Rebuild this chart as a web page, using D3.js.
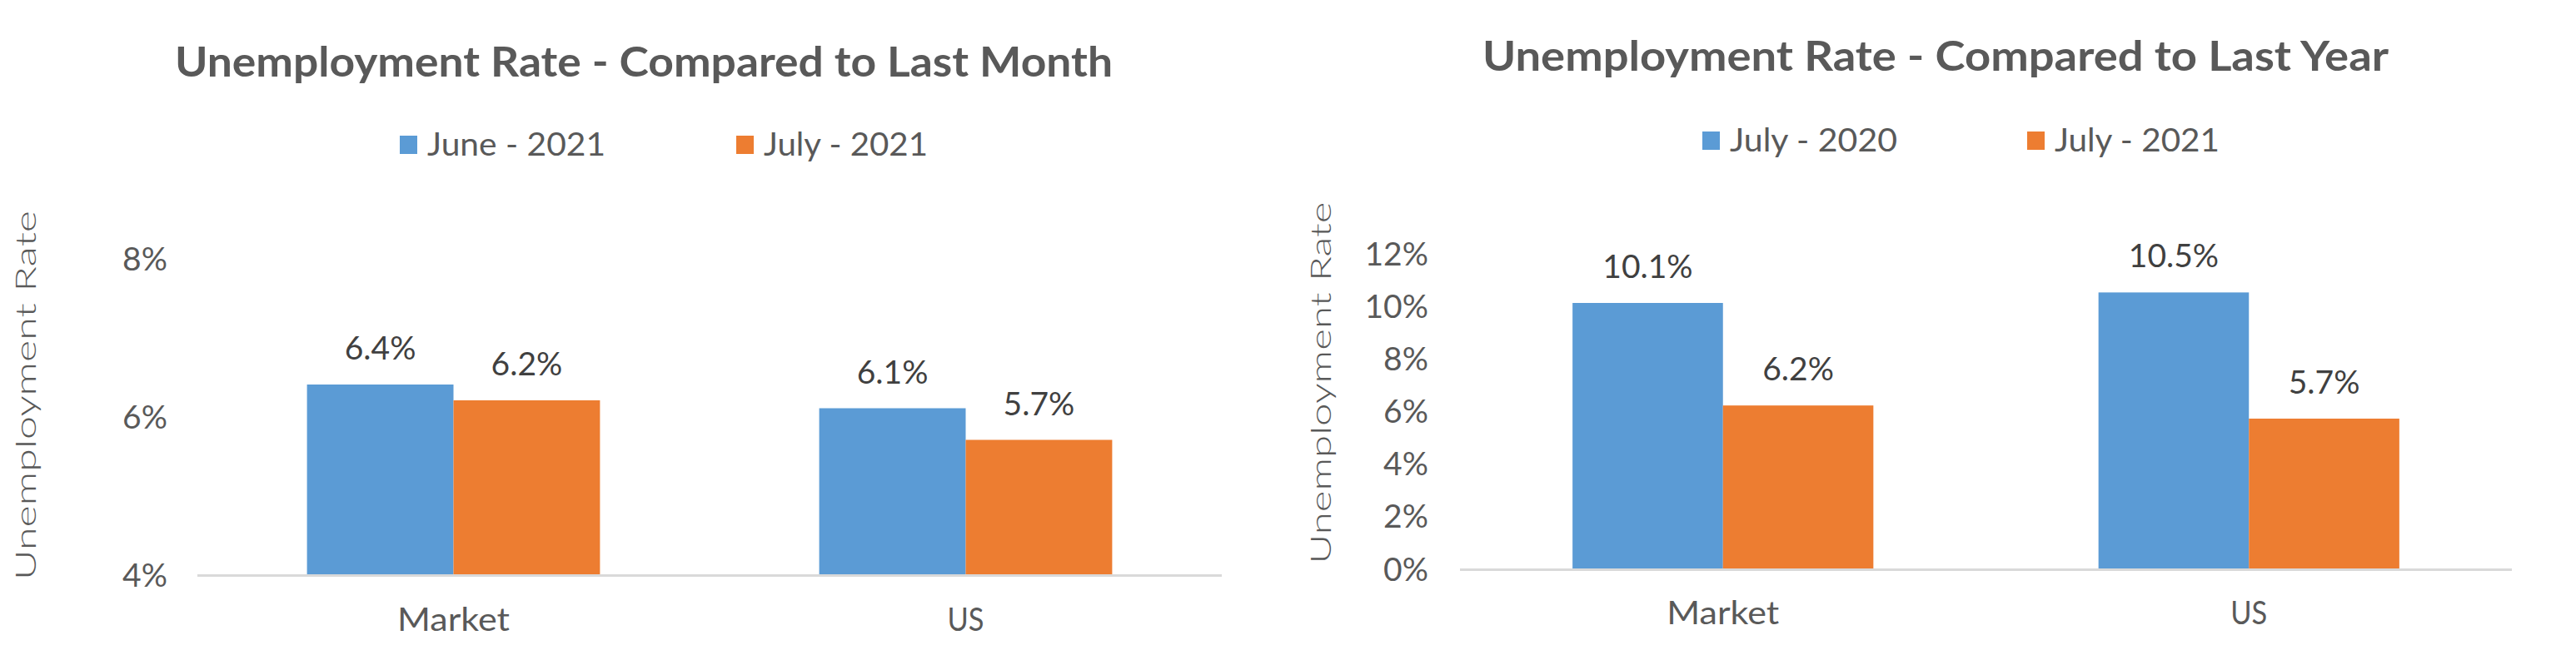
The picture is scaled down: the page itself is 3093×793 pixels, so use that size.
<!DOCTYPE html>
<html>
<head>
<meta charset="utf-8">
<script src="https://cdn.jsdelivr.net/npm/d3@7"></script>
<style>
  html, body { margin: 0; padding: 0; background: #ffffff; }
  svg { display: block; }
  text { font-family: Lato, "Noto Sans", sans-serif; }
</style>
</head>
<body>
<svg id="chart" width="3093" height="793"></svg>
<script>
// ---------- data ----------
const categories = ["Market", "US"];

const monthTitle = "Unemployment Rate - Compared to Last Month";
const monthSeries = ["June - 2021", "July - 2021"];
const monthJune2021 = [6.4, 6.1];
const monthJuly2021 = [6.2, 5.7];
const monthTicks = [4, 6, 8];

const yearTitle = "Unemployment Rate - Compared to Last Year";
const yearSeries = ["July - 2020", "July - 2021"];
const yearJuly2020 = [10.1, 10.5];
const yearJuly2021 = [6.2, 5.7];
const yearTicks = [0, 2, 4, 6, 8, 10, 12];

const yAxisTitle = "Unemployment Rate";
const seriesColors = ["#5B9BD5", "#ED7D31"];

// ---------- drawing ----------
const svg = d3.select("#chart");
const TEXT = "#595959";
const LABEL = "#404040";

function drawChart(cfg) {
  const g = svg.append("g");
  const values = cfg.values;

  const x = d3.scaleBand().domain(categories)
    .range([cfg.x0, cfg.x1]).paddingInner(0.428).paddingOuter(0.214);
  const xs = d3.scaleBand().domain(d3.range(values.length))
    .range([0, x.bandwidth()]).padding(0);
  const y = d3.scaleLinear().domain(cfg.domain).range([cfg.yBottom, cfg.yTop]);

  // title
  g.append("text")
    .attr("x", cfg.titleX).attr("y", cfg.titleY)
    .attr("text-anchor", "middle")
    .attr("font-size", 49).attr("font-weight", 700)
    .attr("fill", TEXT)
    .attr("textLength", cfg.titleW).attr("lengthAdjust", "spacingAndGlyphs")
    .text(cfg.title);

  // legend
  cfg.series.forEach((s, i) => {
    const lx = cfg.legendX[i];
    g.append("rect")
      .attr("x", lx).attr("y", cfg.legendY - 24)
      .attr("width", 21).attr("height", 22)
      .attr("fill", seriesColors[i]);
    g.append("text")
      .attr("x", lx + 33).attr("y", cfg.legendY)
      .attr("font-size", 39).attr("fill", TEXT)
      .attr("textLength", cfg.legendW[i]).attr("lengthAdjust", "spacingAndGlyphs")
      .text(s);
  });

  // y axis (labels only)
  const yAxis = d3.axisLeft(y).tickValues(cfg.ticks)
    .tickFormat(d => d + "%").tickSize(0).tickPadding(0);
  const ya = g.append("g")
    .attr("transform", `translate(${cfg.tickRight},0)`)
    .call(yAxis);
  ya.select(".domain").remove();
  ya.selectAll("text")
    .attr("font-size", 39).attr("fill", TEXT)
    .attr("font-family", "Lato, 'Noto Sans', sans-serif")
    .attr("dy", "0.36em");

  // y axis title
  g.append("text")
    .attr("transform", `translate(${cfg.yTitleX},${cfg.yTitleY}) rotate(-90)`)
    .attr("text-anchor", "middle")
    .attr("font-size", 34).attr("font-weight", 300).attr("fill", TEXT)
    .attr("textLength", cfg.yTitleW).attr("lengthAdjust", "spacingAndGlyphs")
    .text(yAxisTitle);

  // bars
  values.forEach((arr, si) => {
    g.selectAll(null).data(arr).enter().append("rect")
      .attr("x", (d, i) => x(categories[i]) + xs(si))
      .attr("y", d => y(d))
      .attr("width", xs.bandwidth())
      .attr("height", d => y(cfg.domain[0]) - y(d))
      .attr("fill", seriesColors[si]);
    g.selectAll(null).data(arr).enter().append("text")
      .attr("x", (d, i) => x(categories[i]) + xs(si) + xs.bandwidth() / 2)
      .attr("y", d => y(d) - 30)
      .attr("text-anchor", "middle")
      .attr("font-size", 39).attr("fill", LABEL)
      .text(d => d3.format(".1f")(d) + "%");
  });

  // x axis line
  g.append("line")
    .attr("x1", cfg.x0).attr("x2", cfg.x1)
    .attr("y1", y(cfg.domain[0]) + 1.5).attr("y2", y(cfg.domain[0]) + 1.5)
    .attr("stroke", "#D9D9D9").attr("stroke-width", 3);

  // x labels
  const xAxis = d3.axisBottom(x).tickSize(0).tickPadding(0);
  const xa = g.append("g")
    .attr("transform", `translate(0,${cfg.xLabelY})`)
    .call(xAxis);
  xa.select(".domain").remove();
  xa.selectAll("text")
    .attr("dy", 0)
    .attr("font-size", 39).attr("fill", TEXT)
    .attr("font-family", "Lato, 'Noto Sans', sans-serif")
    .each(function(d) {
      d3.select(this).attr("textLength", d === "Market" ? 135 : 44)
        .attr("lengthAdjust", "spacingAndGlyphs");
    });
}

drawChart({
  title: monthTitle, titleX: 773, titleY: 92, titleW: 1126,
  series: monthSeries, values: [monthJune2021, monthJuly2021],
  legendX: [480, 884], legendY: 187, legendW: [214, 197],
  x0: 237, x1: 1467, yBottom: 690, yTop: 310, domain: [4, 8],
  ticks: monthTicks, tickRight: 201,
  yTitleX: 43, yTitleY: 475, yTitleW: 444,
  xLabelY: 758
});

drawChart({
  title: yearTitle, titleX: 2324, titleY: 85, titleW: 1088,
  series: yearSeries, values: [yearJuly2020, yearJuly2021],
  legendX: [2044, 2434], legendY: 182, legendW: [201, 198],
  x0: 1753, x1: 3016, yBottom: 683, yTop: 304, domain: [0, 12],
  ticks: yearTicks, tickRight: 1715,
  yTitleX: 1598, yTitleY: 460, yTitleW: 435,
  xLabelY: 750
});
</script>
</body>
</html>
